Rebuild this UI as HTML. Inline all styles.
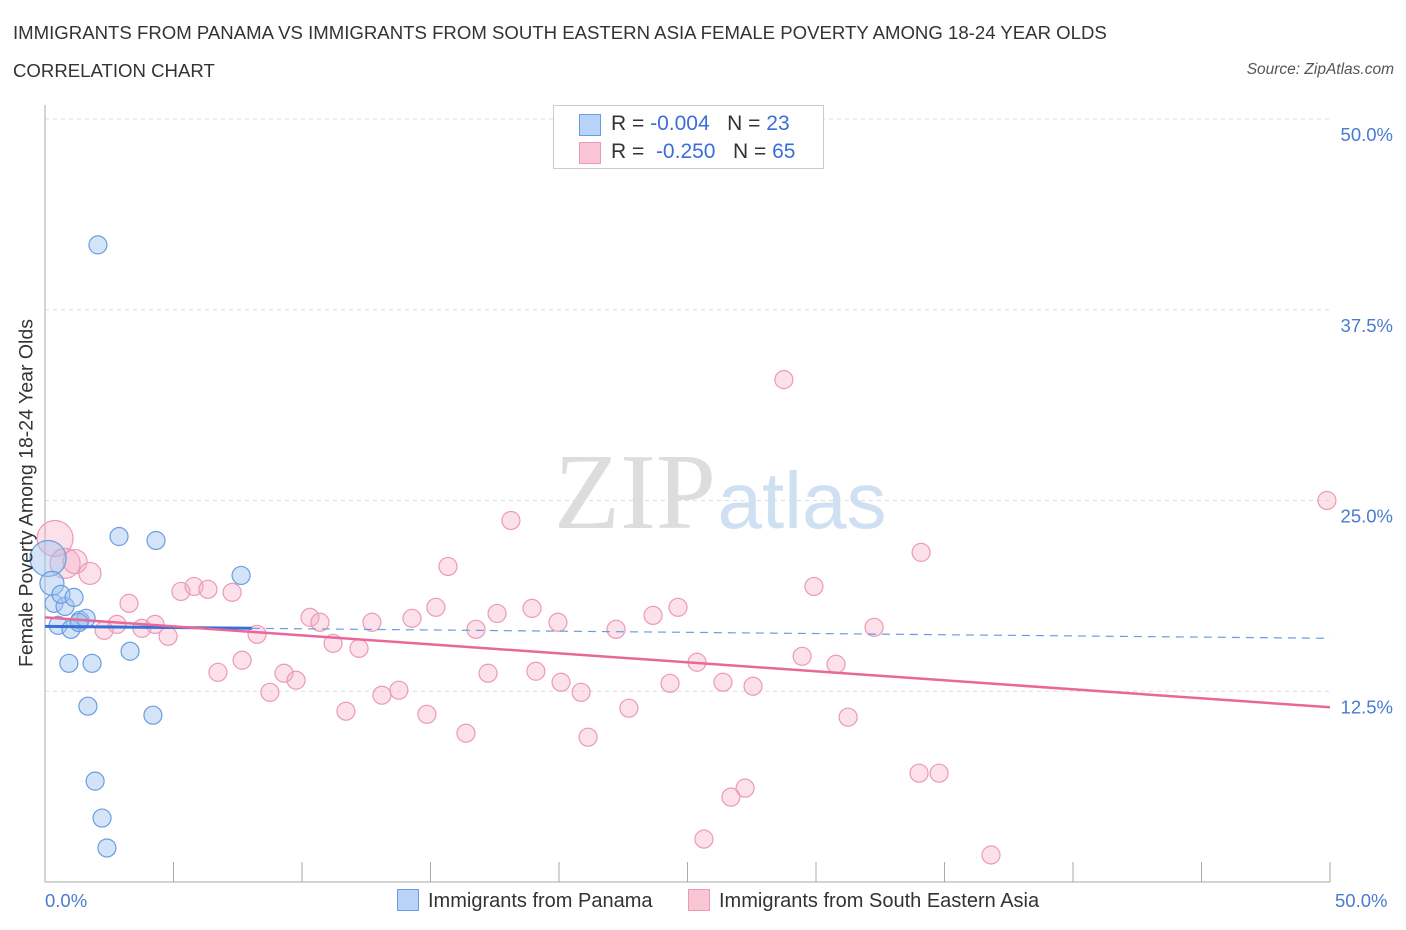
<!DOCTYPE html>
<html><head><meta charset="utf-8"><style>
body{margin:0;background:#fff;font-family:"Liberation Sans",sans-serif;}
#wrap{position:relative;width:1406px;height:930px;overflow:hidden}
.t{position:absolute;white-space:nowrap}
</style></head><body>
<div id="wrap">
<div class="t" style="left:13px;top:22px;font-size:18.6px;color:#333">IMMIGRANTS FROM PANAMA VS IMMIGRANTS FROM SOUTH EASTERN ASIA FEMALE POVERTY AMONG 18-24 YEAR OLDS</div>
<div class="t" style="left:13px;top:60px;font-size:18.6px;color:#333">CORRELATION CHART</div>
<div class="t" style="right:12px;top:61px;font-size:15.5px;color:#555;font-style:italic">Source: ZipAtlas.com</div>
<svg id="svg" width="1406" height="930" style="position:absolute;left:0;top:0"></svg>
</div>
<script>
const panamaX=[2.06,2.88,4.32,7.63,0.12,0.27,0.35,0.78,0.62,1.13,1.36,1.6,0.51,1.01,0.93,1.83,3.31,1.67,4.2,1.95,2.22,2.41,1.32];
const panamaY=[41.75,22.64,22.38,20.09,21.2,19.57,18.26,18.06,18.85,18.65,17.15,17.28,16.82,16.56,14.33,14.33,15.12,11.52,10.93,6.61,4.19,2.23,17.0];
const panamaR=[9,9,9,9,18,12,9,9,9,9,9,9,9,9,9,9,9,9,9,9,9,9,9];
const seaX=[0.39,0.78,1.17,1.75,18.13,15.68,34.09,28.75,49.88,29.92,5.29,5.8,6.34,7.28,3.27,15.21,17.59,18.95,24.63,23.66,10.31,10.7,12.72,14.28,19.96,2.8,4.28,3.77,2.3,4.79,8.25,16.77,22.22,32.26,11.21,12.22,7.67,25.37,29.46,30.78,6.73,9.3,9.77,17.24,19.1,20.08,24.32,26.38,27.55,8.75,13.11,13.77,20.86,11.71,14.86,22.72,31.25,16.38,21.13,34.01,34.79,27.24,26.69,25.64,36.81];
const seaY=[22.51,20.88,21.0,20.22,23.69,20.68,21.6,32.92,25.0,19.37,19.04,19.37,19.18,18.98,18.26,18.0,17.6,17.93,18.0,17.47,17.34,17.02,17.02,17.28,17.02,16.88,16.88,16.62,16.49,16.1,16.23,16.56,16.56,16.69,15.64,15.31,14.53,14.4,14.79,14.27,13.74,13.68,13.22,13.68,13.81,13.09,13.02,13.09,12.83,12.43,12.24,12.57,12.43,11.19,10.99,11.39,10.8,9.75,9.49,7.13,7.13,6.15,5.56,2.81,1.77];
const seaR=[18,15,12,11];
const yTicks=[12.5,25,37.5,50];
const yTickLabels=["12.5%","25.0%","37.5%","50.0%"];
const xTicks=[0,5,10,15,20,25,30,35,40,45,50];
const blueTrend=[16.75,15.97];
const pinkTrend=[17.34,11.45];
const blueSolidEnd=8.05;

const svg=document.getElementById('svg');
const NS='http://www.w3.org/2000/svg';
const X=v=>45+v*25.7, Y=v=>882-v*15.26;
function mk(t,a){const e=document.createElementNS(NS,t);for(const k in a)e.setAttribute(k,a[k]);svg.appendChild(e);return e;}
yTicks.forEach((t,i)=>{
  const g=mk('line',{x1:45,x2:1330,y1:Y(t),y2:Y(t),stroke:'#ddd','stroke-dasharray':'4,4'});
  
  
  const l=mk('text',{x:1393,y:Y(t)+22,'text-anchor':'end','font-size':18.5,fill:'#4a7bd0','font-family':'Liberation Sans'});
  l.textContent=yTickLabels[i];
  
  
});
const ax=mk('line',{x1:45,x2:45,y1:105,y2:882,stroke:'#aaa'});


const bx=mk('line',{x1:45,x2:1330,y1:882,y2:882,stroke:'#aaa'});


xTicks.forEach(t=>{
  const k=mk('line',{x1:X(t),x2:X(t),y1:862,y2:882,stroke:'#aaa'});
  
  
});
const w1=mk('text',{x:635,y:528,'text-anchor':'middle','font-size':108,fill:'#ddd','font-family':'Liberation Serif'});w1.textContent='ZIP';


const w2=mk('text',{x:802,y:528,'text-anchor':'middle','font-size':80,fill:'#cfe0f3','font-family':'Liberation Sans'});w2.textContent='atlas';


seaX.forEach((x,i)=>{
  const c=mk('circle',{cx:X(x),cy:Y(seaY[i]),r:seaR[i]||9,fill:'rgba(246,170,195,0.35)',stroke:'#eb9ab5','stroke-width':1.2});
  
  
});
panamaX.forEach((x,i)=>{
  const c=mk('circle',{cx:X(x),cy:Y(panamaY[i]),r:panamaR[i],fill:'rgba(160,196,240,0.45)',stroke:'#6a9de0','stroke-width':1.2});
  
  
});
const bt=v=>blueTrend[0]+(blueTrend[1]-blueTrend[0])*v/50;
const l1=mk('line',{x1:X(0),y1:Y(bt(0)),x2:X(blueSolidEnd),y2:Y(bt(blueSolidEnd)),stroke:'#3a6fd8','stroke-width':3});


const l2=mk('line',{x1:X(blueSolidEnd),y1:Y(bt(blueSolidEnd)),x2:X(50),y2:Y(bt(50)),stroke:'#6a9de0','stroke-width':1.2,'stroke-dasharray':'8,6'});


const l3=mk('line',{x1:X(0),y1:Y(pinkTrend[0]),x2:X(50),y2:Y(pinkTrend[1]),stroke:'#e8689a','stroke-width':2.5});


</script>
<div class="t" style="left:45px;top:890px;font-size:18.5px;color:#4a7bd0">0.0%</div>
<div class="t" style="left:1335px;top:890px;font-size:18.5px;color:#4a7bd0">50.0%</div>
<div class="t" style="left:27px;top:493px;font-size:19.5px;color:#333;transform:translate(-50%,-50%) rotate(-90deg)">Female Poverty Among 18-24 Year Olds</div>
<div style="position:absolute;left:553px;top:105px;width:269px;height:62px;border:1px solid #ccc;background:#fff;font-size:21px">
 <div style="position:absolute;left:25px;top:8px;width:20px;height:20px;background:#b8d3f7;border:1px solid #6a9de0"></div>
 <div class="t" style="left:57px;top:6px;color:#333">R = <span style="color:#3a6fd8">-0.004</span>&nbsp;&nbsp;&nbsp;N = <span style="color:#3a6fd8">23</span></div>
 <div style="position:absolute;left:25px;top:36px;width:20px;height:20px;background:#fac6d6;border:1px solid #eb9ab5"></div>
 <div class="t" style="left:57px;top:34px;color:#333">R = &nbsp;<span style="color:#3a6fd8">-0.250</span>&nbsp;&nbsp;&nbsp;N = <span style="color:#3a6fd8">65</span></div>
</div>
<div style="position:absolute;left:397px;top:889px;font-size:20px;color:#333">
 <span style="display:inline-block;width:20px;height:20px;background:#b8d3f7;border:1px solid #6a9de0;vertical-align:-4px;margin-right:9px"></span>Immigrants from Panama</div>
<div style="position:absolute;left:688px;top:889px;font-size:20px;color:#333">
 <span style="display:inline-block;width:20px;height:20px;background:#fac6d6;border:1px solid #eb9ab5;vertical-align:-4px;margin-right:9px"></span>Immigrants from South Eastern Asia</div>
</body></html>
